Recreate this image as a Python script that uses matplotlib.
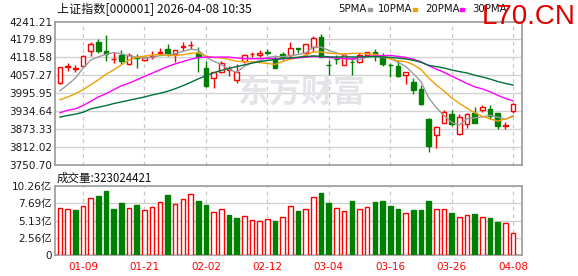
import matplotlib
matplotlib.use('Agg')
import matplotlib.pyplot as plt
import numpy as np

# trading days shown in the window
dates = ['01-06', '01-07', '01-08', '01-09', '01-12', '01-13', '01-14', '01-15', '01-16', '01-19',
         '01-20', '01-21', '01-22', '01-23', '01-26', '01-27', '01-28', '01-29', '01-30', '02-02',
         '02-03', '02-04', '02-05', '02-06', '02-09', '02-10', '02-11', '02-12', '02-13', '02-24',
         '02-25', '02-26', '02-27', '03-02', '03-03', '03-04', '03-05', '03-06', '03-09', '03-10',
         '03-11', '03-12', '03-13', '03-16', '03-17', '03-18', '03-19', '03-20', '03-23', '03-24',
         '03-25', '03-26', '03-27', '03-30', '03-31', '04-01', '04-02', '04-03', '04-07', '04-08']

opens = [4031, 4085, 4078, 4090, 4140, 4169.7, 4140, 4112, 4128, 4095,
         4119, 4108.7, 4121, 4134, 4147, 4129, 4153, 4160, 4132.4, 4082.7,
         4047.7, 4068, 4076, 4042, 4107.6, 4129, 4128, 4137, 4114, 4131,
         4128, 4149, 4132.4, 4155, 4189, 4093, 4114, 4092.9, 4104, 4101.9,
         4126.8, 4137, 4121, 4093, 4090.6, 4059, 4033, 4010.4, 3906.4, 3854.5,
         3895, 3925.6, 3855.6, 3889.5, 3926.8, 3940.3, 3943.7, 3929, 3885, 3934.7]
closes = [4085, 4088, 4083, 4124, 4166, 4141.5, 4130, 4114, 4105, 4128,
          4117, 4119, 4123, 4137, 4134.7, 4142.6, 4156, 4162, 4121, 4019.4,
          4069, 4100.8, 4078, 4068, 4125.6, 4131, 4132, 4135, 4083.8, 4121,
          4149.4, 4148, 4163, 4183.3, 4121, 4091, 4112, 4126.8, 4102, 4125.6,
          4135.8, 4131, 4097.4, 4091, 4053.3, 4067, 4008, 3959.6, 3816, 3881.6,
          3932.4, 3891.7, 3915.5, 3924.5, 3895, 3949.4, 3917.7, 3883.8, 3888, 3959.6]
highs = [4087, 4100.8, 4093, 4125, 4170.8, 4179.9, 4195.7, 4135.8, 4143.7, 4132.4,
         4130, 4121, 4141.5, 4149.4, 4164, 4143.7, 4169.7, 4175.4, 4155, 4107.6,
         4070, 4105, 4089.5, 4096, 4129, 4138, 4143.7, 4146, 4126.8, 4135.6,
         4170.8, 4150, 4166, 4191, 4200, 4109.8, 4126.8, 4132.4, 4118.9, 4132.4,
         4138, 4146, 4132.4, 4100.8, 4109.8, 4070, 4047.7, 4025, 3911, 3884,
         3940, 3940, 3925.6, 3928, 3949.4, 3956, 3955, 3930, 3898.5, 3963]
lows = [4029, 4073.7, 4070, 4089, 4124.5, 4132.4, 4107.6, 4098.5, 4095, 4094,
        4083.8, 4107, 4112, 4128, 4124.5, 4104, 4139, 4148, 4066.9, 4016,
        4013.7, 4064.6, 4053.3, 4030.7, 4098.5, 4121, 4121, 4128, 4081.6, 4110,
        4121, 4132, 4128, 4135.8, 4119, 4059, 4095, 4091.8, 4056.7, 4100,
        4124, 4107.6, 4090.6, 4051, 4051, 4027, 3994.6, 3957.3, 3796.8, 3809.3,
        3893, 3883.8, 3853.3, 3878, 3892.8, 3931, 3906.4, 3872.5, 3874.8, 3926.8]

ma5 = [4004.7, 4025, 4047.7, 4081.6, 4109, 4120.5, 4128.9, 4135, 4131.3, 4123.7,
       4118.8, 4116.6, 4118.4, 4124.8, 4126.1, 4131.3, 4138.7, 4146.5, 4143.3, 4120.2,
       4105.5, 4094.4, 4077.6, 4067, 4088.3, 4100.7, 4107, 4118.3, 4121.5, 4120.6,
       4124.2, 4128.2, 4133.8, 4153.7, 4153.7, 4142.1, 4134.1, 4126.8, 4110.6, 4111.5,
       4120.2, 4124.2, 4118.4, 4116.2, 4101.7, 4087.9, 4063.3, 4035.8, 3980.8, 3946.6,
       3919.9, 3896.3, 3887.4, 3909.1, 3911.8, 3915.2, 3920.4, 3914.1, 3906.6, 3919.7]
ma10 = [3974, 3983, 3994.6, 4008, 4025, 4042, 4061, 4076, 4093, 4110,
        4119.7, 4122.8, 4126.8, 4128, 4124.9, 4125, 4127.6, 4132.4, 4134, 4123.2,
        4118.4, 4116.6, 4112, 4105.2, 4104.2, 4103.1, 4100.7, 4098, 4094.3, 4104.4,
        4112.5, 4117.6, 4126, 4137.6, 4137.2, 4133.2, 4131.2, 4130.3, 4132.2, 4132.6,
        4131.3, 4129.2, 4122.6, 4113.4, 4106.6, 4104.2, 4093.8, 4077.1, 4048.5, 4024.1,
        4003.7, 3979.8, 3961.6, 3945, 3929.1, 3917.4, 3908.3, 3900.8, 3908, 3915.8]
ma20 = [3929, 3938, 3942.6, 3954, 3968.6, 3983.3, 3994.6, 4008, 4021.7, 4030.7,
        4042, 4053.3, 4064.6, 4075.9, 4087.2, 4096.3, 4104.2, 4112, 4117.7, 4119.8,
        4119, 4119.7, 4119.4, 4116.6, 4114.6, 4114, 4114.2, 4115.2, 4114.1, 4113.8,
        4115.4, 4117.1, 4119.1, 4121.4, 4120.7, 4118.1, 4115.9, 4114.2, 4113.2, 4118.5,
        4121.9, 4123.4, 4124.3, 4125.5, 4121.9, 4118.7, 4112.5, 4103.7, 4090.3, 4078.3,
        4067.5, 4054.5, 4042.1, 4029.2, 4017.9, 4010.8, 4001.1, 3988.9, 3978.2, 3969.9]
ma30 = [3914.3, 3920, 3924.5, 3931, 3942.6, 3948, 3953.9, 3960.7, 3966.3, 3972,
        3977.6, 3983.3, 3990, 3995.7, 4002.5, 4011.5, 4021.7, 4033, 4045, 4056,
        4066, 4074, 4081, 4087, 4093, 4099, 4104, 4108, 4111.5, 4114.7,
        4116.8, 4119, 4121.6, 4123.6, 4122.1, 4120.4, 4119.8, 4120.2, 4120.1, 4120.1,
        4120.7, 4121.1, 4120.2, 4118.7, 4116, 4113.5, 4108.5, 4101.8, 4091.6, 4087,
        4082.5, 4075.5, 4070.1, 4065.3, 4057.6, 4051.6, 4044.4, 4036.1, 4029.5, 4024.1]

# volume in 亿 (1e8), and whether the day closed up (red) or down (green)
volumes = [6.99, 6.84, 6.69, 7.29, 8.48, 8.82, 9.52, 6.84, 7.73, 6.99,
           7.48, 6.69, 7.14, 7.83, 8.92, 7.58, 8.33, 9.07, 8.03, 7.48,
           6.34, 6.79, 5.95, 5.50, 5.75, 5.15, 5.01, 5.30, 5.06, 5.60,
           7.24, 6.54, 6.79, 8.57, 9.22, 7.73, 6.94, 6.49, 8.03, 6.79,
           7.09, 7.88, 8.03, 7.29, 6.84, 6.20, 6.69, 6.69, 8.03, 6.79,
           6.79, 6.25, 5.60, 5.90, 6.10, 5.60, 5.45, 4.91, 4.71, 3.23]
vol_up = [1, 1, 0, 1, 1, 0, 0, 0, 0, 1,
          0, 1, 1, 1, 0, 1, 1, 1, 0, 0,
          1, 1, 0, 0, 1, 1, 1, 1, 0, 1,
          1, 0, 1, 1, 0, 0, 1, 1, 0, 1,
          1, 0, 0, 0, 0, 1, 0, 0, 0, 1,
          1, 0, 1, 1, 0, 1, 0, 0, 1, 1]

price_ticks = [3750.70, 3812.02, 3873.33, 3934.64, 3995.95, 4057.27, 4118.58, 4179.89, 4241.21]
vol_ticks = [0, 2.56, 5.13, 7.69, 10.26]
vol_labels = ['0', '2.56亿', '5.13亿', '7.69亿', '10.26亿']
label_idx = [3, 11, 19, 27, 35, 43, 51, 59]

RED = '#ff0000'
GREEN = '#008000'
GRID = '#d2d2d2'
FRAME = '#9a9a9a'
CJK = ['DejaVu Sans', 'Noto Sans CJK SC']

x = np.arange(len(dates))
o = np.array(opens)
c = np.array(closes)

fig = plt.figure(figsize=(5.78, 2.76), dpi=100)
ax = fig.add_axes([55/578, 1-165/276, 467/578, 143.5/276])
axv = fig.add_axes([55/578, 1-255/276, 467/578, 69/276])

for a in (ax, axv):
    a.set_xlim(-0.65, 60.16)
    for s in a.spines.values():
        s.set_color(FRAME)
        s.set_linewidth(1.2)
    a.tick_params(length=0, labelsize=7.5, colors='#1a1a1a', pad=2)
    for i in label_idx:
        a.axvline(i, color='#c8c8c8', lw=0.9, linestyle=(0, (3, 3)), zorder=0)

# price panel
ax.set_ylim(price_ticks[0], price_ticks[-1])
ax.set_yticks(price_ticks)
ax.set_yticklabels(['%.2f' % v for v in price_ticks])
ax.set_xticks([])
for v in price_ticks[1:-1]:
    ax.axhline(v, color=GRID, lw=1, zorder=0)

ax.text(0.527, 0.5, '东方财富', transform=ax.transAxes, fontsize=23, fontweight='bold',
        color='#e4e4e8', ha='center', va='center', family=['Noto Sans CJK SC'], zorder=0)

up = c >= o
cols = np.where(up, RED, GREEN)
ax.vlines(x, lows, highs, colors=cols, lw=1, zorder=2)
ax.bar(x, np.abs(c - o), bottom=np.minimum(o, c), width=0.6,
       color=np.where(up, 'white', GREEN), edgecolor=cols, linewidth=1, zorder=3)

ax.plot(x, ma5, color='#9c9c9c', lw=1, zorder=4)
ax.plot(x, ma10, color='#f0a000', lw=1, zorder=4)
ax.plot(x, ma20, color='#ff00ff', lw=1, zorder=4)
ax.plot(x, ma30, color='#007038', lw=1, zorder=4)

# volume panel
axv.set_ylim(0, 10.26)
axv.set_yticks(vol_ticks)
axv.set_yticklabels(vol_labels, family=CJK)
for v in vol_ticks[1:-1]:
    axv.axhline(v, color=GRID, lw=1, zorder=0)
vup = np.array(vol_up) == 1
axv.bar(x, volumes, width=0.6, color=np.where(vup, 'white', GREEN),
        edgecolor=np.where(vup, RED, GREEN), linewidth=1, zorder=3)
axv.set_xticks(label_idx)
axv.set_xticklabels([dates[i] for i in label_idx], color=RED)
axv.tick_params(axis='x', pad=5)

# header texts
fig.text(57/578, 1-10/276, '上证指数[000001] 2026-04-08 10:35', fontsize=8.7,
         va='center', ha='left', family=['Noto Sans CJK SC', 'DejaVu Sans'], color='#111111')
fig.text(57/578, 1-178/276, '成交量:323024421', fontsize=8.3,
         va='center', ha='left', family=['Noto Sans CJK SC', 'DejaVu Sans'], color='#111111')

legend = [('5PMA', 338, '#9c9c9c', 368), ('10PMA', 378, '#f0a000', 413),
          ('20PMA', 425, '#ff00ff', 460), ('30PMA', 472, '#007038', None)]
for name, tx, col, mx in legend:
    fig.text(tx/578, 1-9/276, name, fontsize=7.3, va='center', ha='left', color='#111111')
    if mx is not None:
        fig.patches.append(plt.Rectangle((mx/578, 1-11/276), 4/578, 3/276, color=col,
                                         transform=fig.transFigure, figure=fig))

fig.text(482/578, 1-17/276, 'L70.CN', fontsize=20, va='center', ha='left',
         color='#e00000', family='Liberation Sans')

plt.savefig('out.png', dpi=100)
